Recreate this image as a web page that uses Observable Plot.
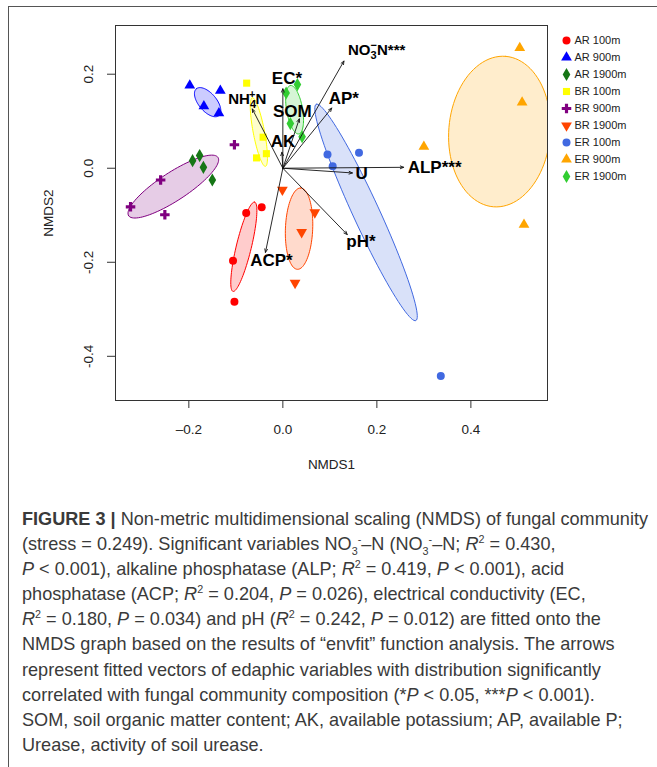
<!DOCTYPE html>
<html><head><meta charset="utf-8">
<script src="https://cdn.jsdelivr.net/npm/d3@7"></script>
<script src="https://cdn.jsdelivr.net/npm/@observablehq/plot@0.6"></script>
<style>
body{margin:0;background:#fff;width:657px;height:767px;overflow:hidden;position:relative;font-family:"Liberation Sans",Arial,sans-serif;}
#frame{position:absolute;left:8px;top:6px;width:700px;height:800px;border-left:1px solid #555;border-top:1px solid #555;}
#chart{position:absolute;left:0;top:0;}
#legend{position:absolute;left:555px;top:0;}
#caption{position:absolute;left:22px;top:506px;font-family:"Liberation Sans",Arial,sans-serif;font-size:18.5px;line-height:25.1px;color:#3a3a3a;white-space:nowrap;transform-origin:0 0;}
#caption sup,#caption sub{font-size:11px;line-height:0;}
#caption .l{display:inline-block;}
</style></head><body>
<div id="frame"></div><div id="chart"></div><div id="legend"></div>
<div id="caption">
<span class="l" id="l1"><b>FIGURE 3 |</b> Non-metric multidimensional scaling (NMDS) of fungal community</span><br>
<span class="l">(stress = 0.249). Significant variables NO<sub>3</sub><sup>-</sup>–N (NO<sub>3</sub><sup>-</sup>–N; <i>R</i><sup>2</sup> = 0.430,</span><br>
<span class="l"><i>P</i> &lt; 0.001), alkaline phosphatase (ALP; <i>R</i><sup>2</sup> = 0.419, <i>P</i> &lt; 0.001), acid</span><br>
<span class="l">phosphatase (ACP; <i>R</i><sup>2</sup> = 0.204, <i>P</i> = 0.026), electrical conductivity (EC,</span><br>
<span class="l"><i>R</i><sup>2</sup> = 0.180, <i>P</i> = 0.034) and pH (<i>R</i><sup>2</sup> = 0.242, <i>P</i> = 0.012) are fitted onto the</span><br>
<span class="l">NMDS graph based on the results of “envfit” function analysis. The arrows</span><br>
<span class="l">represent fitted vectors of edaphic variables with distribution significantly</span><br>
<span class="l">correlated with fungal community composition (*<i>P</i> &lt; 0.05, ***<i>P</i> &lt; 0.001).</span><br>
<span class="l">SOM, soil organic matter content; AK, available potassium; AP, available P;</span><br>
<span class="l">Urease, activity of soil urease.</span>
</div>
<script>
// ---------- data ----------
const groups = ["AR 100m","AR 900m","AR 1900m","BR 100m","BR 900m","BR 1900m","ER 100m","ER 900m","ER 1900m"];
const groupColors = ["#ff0000","#0000ff","#167616","#ffff00","#800080","#ff4500","#4169e1","#ffa500","#32cd32"];
const groupSymbols = ["circle","triangle","diamond","square","cross","triangle","circle","triangle","diamond"];
const groupFlipped = ["BR 1900m"];

// site scores (4 samples per group)
const pointGroup = [
  "AR 100m","AR 100m","AR 100m","AR 100m",
  "AR 900m","AR 900m","AR 900m","AR 900m",
  "AR 1900m","AR 1900m","AR 1900m","AR 1900m",
  "BR 100m","BR 100m","BR 100m","BR 100m",
  "BR 900m","BR 900m","BR 900m","BR 900m",
  "BR 1900m","BR 1900m","BR 1900m","BR 1900m",
  "ER 100m","ER 100m","ER 100m","ER 100m",
  "ER 900m","ER 900m","ER 900m","ER 900m",
  "ER 1900m","ER 1900m","ER 1900m","ER 1900m"];
const pointNMDS1 = [
  -0.078,-0.045,-0.106,-0.103,
  -0.198,-0.133,-0.168,-0.136,
  -0.192,-0.177,-0.169,-0.150,
  -0.077,-0.042,-0.056,-0.035,
  -0.103,-0.260,-0.324,-0.251,
  -0.001,0.068,0.040,0.026,
  0.095,0.106,0.162,0.336,
  0.504,0.509,0.300,0.513,
  0.031,0.007,0.016,0.041];
const pointNMDS2 = [
  -0.095,-0.083,-0.197,-0.284,
  0.176,0.165,0.132,0.117,
  0.016,0.027,0.002,-0.025,
  0.181,0.066,0.022,0.031,
  0.050,-0.025,-0.082,-0.099,
  -0.046,-0.094,-0.136,-0.244,
  0.029,0.004,0.033,-0.442,
  0.256,0.140,0.046,-0.120,
  0.178,0.160,0.095,0.067];

// confidence ellipses: major-axis tips and semi-minor axis
const ellipseGroup = ["AR 100m","AR 900m","BR 100m","BR 900m","BR 1900m","ER 100m","ER 900m","ER 1900m"];
const ellipseTipX1 = [-0.060,-0.184,-0.065,-0.328,0.038,0.071,0.474,0.016];
const ellipseTipY1 = [-0.072,0.169,0.150,-0.101,-0.042,0.136,0.238,0.176];
const ellipseTipX2 = [-0.106,-0.136,-0.037,-0.138,0.031,0.283,0.448,0.034];
const ellipseTipY2 = [-0.262,0.112,0.004,0.023,-0.215,-0.324,-0.082,0.073];
const ellipseMinor = [0.016,0.019,0.012,0.030,0.029,0.028,0.108,0.017];

// envfit vectors
const vectorName = ["NO3-N***","AP*","EC*","SOM","AK","NH4-N","ALP***","U","pH*","ACP*"];
const vectorNMDS1 = [0.130,0.104,0.000,0.035,-0.002,-0.065,0.257,0.148,0.137,-0.037];
const vectorNMDS2 = [0.228,0.128,0.169,0.105,0.034,0.126,0.002,-0.010,-0.141,-0.179];

const xTicks = [-0.2,0.0,0.2,0.4];
const yTicks = [-0.4,-0.2,0.0,0.2];

// ---------- styling / layout helpers ----------
const colorOf = g => groupColors[groups.indexOf(g)];
const symbolOf = g => groupSymbols[groups.indexOf(g)];
const rotOf = g => groupFlipped.includes(g) ? 180 : 0;
const labelStyle = {
  "NO3-N***": {dx: 4, dy: -11, anchor: "start", size: 15},
  "AP*": {dx: -3, dy: -10, anchor: "start", size: 17},
  "EC*": {dx: -11, dy: -10, anchor: "start", size: 17},
  "SOM": {dx: -7, dy: -7, anchor: "middle", size: 17},
  "AK": {dx: 1, dy: -11, anchor: "middle", size: 17},
  "NH4-N": {dx: -5, dy: -10, anchor: "middle", size: 15},
  "ALP***": {dx: 4, dy: 0, anchor: "start", size: 17},
  "U": {dx: 3, dy: 1, anchor: "start", size: 17},
  "pH*": {dx: -1, dy: 7, anchor: "start", size: 17},
  "ACP*": {dx: 6, dy: 8, anchor: "middle", size: 17}
};

const points = pointGroup.map((g, i) => ({group: g, x: pointNMDS1[i], y: pointNMDS2[i]}));
const vectors = vectorName.map((n, i) => ({name: n, x: vectorNMDS1[i], y: vectorNMDS2[i]}));

function ellipsePath(i) {
  const cx = (ellipseTipX1[i] + ellipseTipX2[i]) / 2, cy = (ellipseTipY1[i] + ellipseTipY2[i]) / 2;
  const dx = ellipseTipX1[i] - cx, dy = ellipseTipY1[i] - cy;
  const a = Math.hypot(dx, dy), b = ellipseMinor[i], th = Math.atan2(dy, dx);
  const out = [];
  for (let k = 0; k <= 96; ++k) {
    const t = (k / 96) * 2 * Math.PI;
    const ex = a * Math.cos(t), ey = b * Math.sin(t);
    out.push({x: cx + ex * Math.cos(th) - ey * Math.sin(th), y: cy + ex * Math.sin(th) + ey * Math.cos(th)});
  }
  return out;
}

const fmtX = d => (d < 0 ? "\u2013" : "") + Math.abs(d).toFixed(1);
const fmtY = d => (d < 0 ? "-" : "") + Math.abs(d).toFixed(1);

const ellipseMarks = ellipseGroup.map((g, i) => Plot.line(ellipsePath(i), {
  x: "x", y: "y", fill: colorOf(g), fillOpacity: 0.2, stroke: colorOf(g), strokeWidth: 1, clip: true
}));

const labelMarks = vectors.map(v => {
  const s = labelStyle[v.name];
  return Plot.text([v], {x: "x", y: "y", text: "name", dx: s.dx, dy: s.dy, textAnchor: s.anchor,
    fontSize: s.size, fontWeight: "bold", fill: "#000"});
});

const chart = Plot.plot({
  width: 657, height: 480,
  marginLeft: 115, marginRight: 110, marginTop: 25, marginBottom: 80,
  style: {fontFamily: "'Liberation Sans', Arial, sans-serif", fontSize: "13.5px", color: "#222", background: "transparent", overflow: "visible"},
  x: {domain: [-0.356, 0.563]},
  y: {domain: [-0.494, 0.3036]},
  marks: [
    ...ellipseMarks,
    Plot.dot(points, {x: "x", y: "y", symbol: d => symbolOf(d.group), fill: d => colorOf(d.group), rotate: d => rotOf(d.group), r: 4, stroke: "none"}),
    Plot.arrow(vectors, {x1: () => 0, y1: () => 0, x2: "x", y2: "y", stroke: "#111", strokeWidth: 0.9, headLength: 6, headAngle: 45}),
    ...labelMarks,
    Plot.frame({stroke: "#333"}),
    Plot.axisX({ticks: xTicks, tickFormat: fmtX, tickSize: 8, tickPadding: 16, stroke: "#333", label: "NMDS1", labelAnchor: "center", labelArrow: "none", labelOffset: 68}),
    Plot.axisY({ticks: yTicks, tickFormat: fmtY, tickSize: 8, tickPadding: 15, tickRotate: -90, stroke: "#333", label: "NMDS2", labelAnchor: "center", labelArrow: "none", labelOffset: 72})
  ]
});
document.getElementById("chart").appendChild(chart);

// sub/superscripts in vector labels
chart.querySelectorAll("text").forEach(t => {
  if (t.textContent === "NO3-N***") {
    t.innerHTML = '<tspan>NO</tspan><tspan dy="4" font-size="11">3</tspan><tspan dx="-6" dy="-10" font-size="11">\u2212</tspan><tspan dy="6">N***</tspan>';
  } else if (t.textContent === "NH4-N") {
    t.innerHTML = '<tspan>NH</tspan><tspan dy="4" font-size="11">4</tspan><tspan dx="-7" dy="-10" font-size="11">+</tspan><tspan dy="6">N</tspan>';
  }
});

const legend = Plot.plot({
  width: 102, height: 200, margin: 0,
  style: {fontFamily: "'Liberation Sans', Arial, sans-serif", fontSize: "11px", color: "#222", background: "transparent", overflow: "visible"},
  x: {domain: [0, 1], range: [11, 102], axis: null},
  y: {type: "point", domain: groups, range: [30.7, 184.7], axis: null},
  marks: [
    Plot.dot(groups, {x: () => 0, y: d => d, symbol: d => symbolOf(d), fill: d => colorOf(d), rotate: d => rotOf(d), r: 4}),
    Plot.text(groups, {x: () => 0, y: d => d, text: d => d, dx: 8, textAnchor: "start", fill: "#222"})
  ]
});
document.getElementById("legend").appendChild(legend);

// fit caption's first line to its measured width in the figure
const cap = document.getElementById("caption");
const w1 = document.getElementById("l1").getBoundingClientRect().width;
cap.style.transform = `scaleX(${626 / w1})`;
</script>
</body></html>
